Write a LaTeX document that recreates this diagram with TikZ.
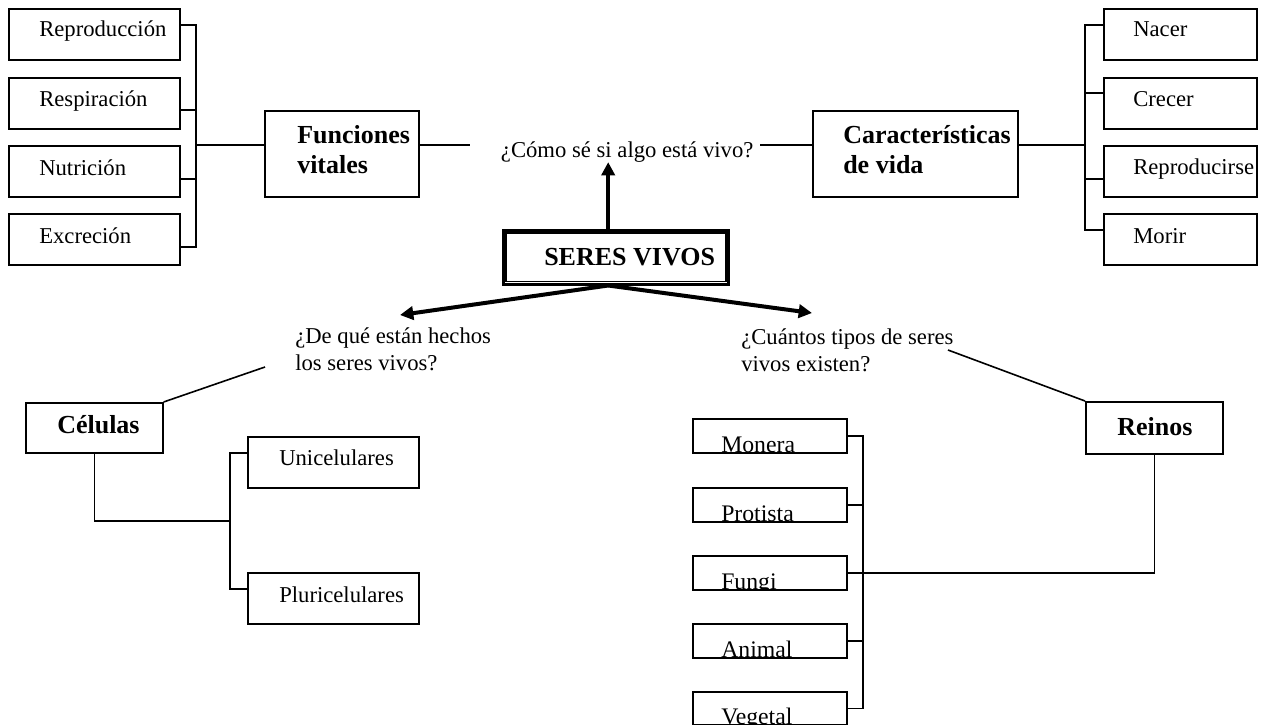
\documentclass[tikz,border=0pt]{standalone}
\usepackage{fontspec}
\setmainfont{Liberation Serif}
\usetikzlibrary{calc,arrows.meta}

\begin{document}
\begin{tikzpicture}[x=0.75pt,y=-0.75pt,
  box/.style 2 args={draw, line width=1.2pt, anchor=north west, inner sep=0pt,
    minimum width={#1*0.75pt}, minimum height={#2*0.75pt}},
  txt/.style={anchor=base west, inner sep=0pt, font=\fontsize{17}{20.25}\selectfont},
  ktxt/.style={anchor=base west, inner sep=0pt, font=\fontsize{17.8}{20}\selectfont},
  head/.style={anchor=base west, inner sep=0pt, font=\fontsize{19.5}{22.5}\selectfont\bfseries},
  kbox/.style={box={154}{34}},
  link/.style={line width=1.2pt},
  bigarrow/.style={line width=3pt, -{Triangle[length=10pt,width=10pt]}}]

\useasboundingbox (0,0) rectangle (1261,725);
\fill[white] (0,0) rectangle (1261,725);

% --- central node: double frame
\node[box={225}{53.3}, line width=2.25pt] (sv) at (502.2,229.2) {};
\draw[line width=1.1pt] ([shift={(4,4)}]sv.north west) rectangle ([shift={(-4,-4)}]sv.south east);
\node[head] (svt) at (544,265) {SERES VIVOS};

% --- questions
\node[txt] (q1) at (500.7,157) {¿Cómo sé si algo está vivo?};
\node[txt] (q2) at (295,343) {\begin{tabular}[t]{@{}l@{}}¿De qué están hechos\\los seres vivos?\end{tabular}};
\node[txt] (q3) at (741,344) {\begin{tabular}[t]{@{}l@{}}¿Cuántos tipos de seres\\vivos existen?\end{tabular}};

% --- vital functions branch
\node[box={154}{86}] (fv) at (264,110) {};
\node[head] (fvt) at (297,143) {\begin{tabular}[t]{@{}l@{}}Funciones\\vitales\end{tabular}};
\node[box={171}{51}] (rep) at (8,8) {};
\node[box={171}{51}] (res) at (8,77) {};
\node[box={171}{51}] (nut) at (8,145) {};
\node[box={171}{51}] (exc) at (8,213) {};
\node[txt] (rept) at (39,36.7) {Reproducción};
\node[txt] (rest) at (39,106) {Respiración};
\node[txt] (nutt) at (39,175) {Nutrición};
\node[txt] (exct) at (39,243) {Excreción};

\coordinate (bl) at (196,145);
\coordinate (q1l) at (470,145);
\draw[link] ($(rep.north east)+(0,17)$) -| (bl);
\draw[link] ($(res.north east)+(0,33)$) -| (bl);
\draw[link] ($(nut.north east)+(0,34)$) -| (bl);
\draw[link] ($(exc.north east)+(0,34)$) -| (bl);
\draw[link] (bl) -- ($(fv.north west)+(0,35)$);
\draw[link] ($(fv.north east)+(0,35)$) -- (q1l);

% --- characteristics of life branch
\node[box={205}{86}] (cv) at (812,110) {};
\node[head] (cvt) at (843,143) {\begin{tabular}[t]{@{}l@{}}Características\\de vida\end{tabular}};
\node[box={153}{51}] (nac) at (1103,8) {};
\node[box={153}{51}] (cre) at (1103,77) {};
\node[box={153}{51}] (rpr) at (1103,145) {};
\node[box={153}{51}] (mor) at (1103,213) {};
\node[txt] (nact) at (1133,36) {Nacer};
\node[txt] (cret) at (1133,106) {Crecer};
\node[txt] (rprt) at (1133,174) {Reproducirse};
\node[txt] (mort) at (1133,243) {Morir};

\coordinate (br) at (1085,145);
\coordinate (q1r) at (760,145);
\draw[link] (q1r) -- ($(cv.north west)+(0,35)$);
\draw[link] ($(cv.north east)+(0,35)$) -- (br);
\draw[link] ($(nac.north west)+(0,17)$) -| (br);
\draw[link] ($(cre.north west)+(0,16)$) -| (br);
\draw[link] ($(rpr.north west)+(0,34)$) -| (br);
\draw[link] ($(mor.north west)+(0,17)$) -| (br);

% --- arrows out of the central node
\coordinate (svtop) at ($(sv.north)+(-8,0)$);
\coordinate (svbot) at ($(sv.south)+(-8,0)$);
\coordinate (q2tip) at (400,315);
\coordinate (q3tip) at (812,313);
\draw[bigarrow] (svtop) -- (svtop |- q1.south);
\draw[bigarrow] (svbot) -- (q2tip);
\draw[bigarrow] (svbot) -- (q3tip);

% --- cells branch
\node[box={137}{50}] (cel) at (25,402) {};
\node[head] (celt) at (57,433) {Células};
\node[box={171}{51}] (uni) at (247,436) {};
\node[box={171}{51}] (plu) at (247,572) {};
\node[txt] (unit) at (279,465) {Unicelulares};
\node[txt] (plut) at (279,602) {Pluricelulares};

\coordinate (q2l) at (265,367);
\coordinate (cj) at (230,521);
\draw[link] (cel.north east) -- (q2l);
\draw[link] (cel.south) |- (cj);
\draw[link] ($(uni.north west)+(0,17)$) -| (cj);
\draw[link] ($(plu.north west)+(0,17)$) -| (cj);

% --- kingdoms branch: labels sit low and are clipped inside their frames
\node[kbox] (mon) at (692,418) {};
\node[kbox] (pro) at (692,487) {};
\node[kbox] (fun) at (692,555) {};
\node[kbox] (ani) at (692,623) {};
\node[kbox, minimum height={33*0.75pt}] (veg) at (692,691) {};
\foreach \b/\t in {mon/Monera, pro/Protista, fun/Fungi, ani/Animal, veg/Vegetal}{
  \begin{scope}
    \clip ([shift={(1.2pt,1.2pt)}]\b.south west) rectangle ([shift={(-1.2pt,-1.2pt)}]\b.north east);
    \node[ktxt] (\b-t) at ($(\b.south west)+(29,-1)$) {\t};
  \end{scope}
}
\node[box={137}{52}] (rei) at (1085,401) {};
\node[head] (reit) at (1117,435) {Reinos};

\coordinate (q3r) at (948,350);
\coordinate (kj) at (863,572);
\draw[link] (q3r) -- (rei.north west);
\draw[link] (rei.south) |- (fun.east);
\draw[link] (mon.east) -| (kj);
\draw[link] (pro.east) -| (kj);
\draw[link] (fun.east) -| (kj);
\draw[link] (ani.east) -| (kj);
\draw[link] (veg.east) -| (kj);
\end{tikzpicture}
\end{document}
